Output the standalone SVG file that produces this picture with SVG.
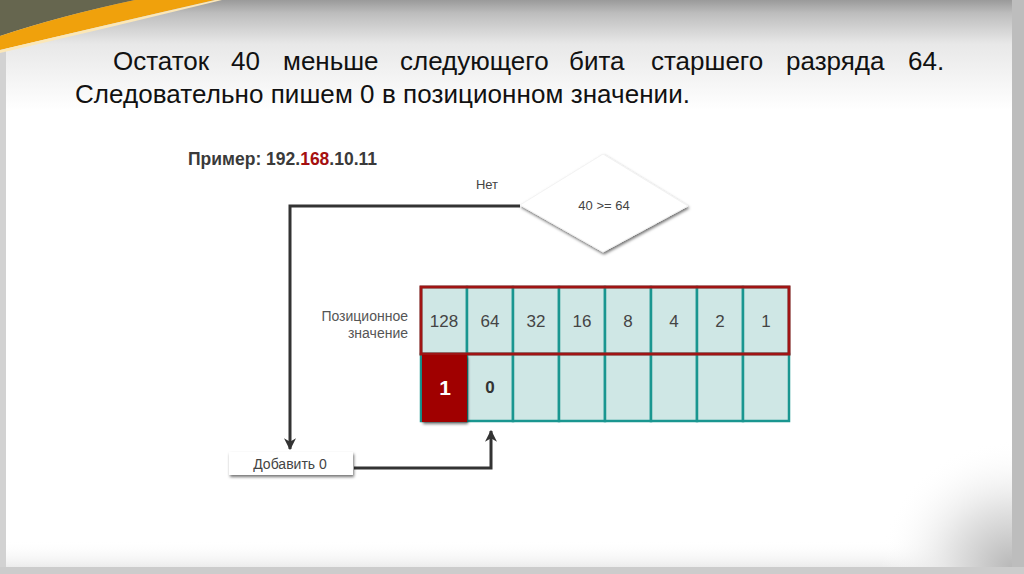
<svg xmlns="http://www.w3.org/2000/svg" width="1024" height="574" viewBox="0 0 1024 574">
  <defs>
    <linearGradient id="hdr" x1="0" y1="0" x2="0" y2="1">
      <stop offset="0" stop-color="#9a9a9a"/>
      <stop offset="0.12" stop-color="#bdbdbd"/>
      <stop offset="0.4" stop-color="#e8e8e8"/>
      <stop offset="1" stop-color="#ffffff"/>
    </linearGradient>
    <linearGradient id="btm" x1="0" y1="0" x2="0" y2="1">
      <stop offset="0" stop-color="#ffffff" stop-opacity="0"/>
      <stop offset="1" stop-color="#ececec"/>
    </linearGradient>
    <radialGradient id="corner" cx="1" cy="1" r="1">
      <stop offset="0" stop-color="#b8b8b8"/>
      <stop offset="0.5" stop-color="#e6e6e6"/>
      <stop offset="1" stop-color="#ffffff" stop-opacity="0"/>
    </radialGradient>
    <filter id="sh" x="-20%" y="-20%" width="140%" height="150%">
      <feDropShadow dx="1" dy="2" stdDeviation="1.5" flood-color="#000" flood-opacity="0.55"/>
    </filter>
    <marker id="arr" viewBox="0 0 10 10" refX="9" refY="5" markerWidth="4" markerHeight="4" orient="auto" markerUnits="strokeWidth">
      <path d="M0,0 L10,5 L0,10 L3,5 Z" fill="#333"/>
    </marker>
    <style>
      .title{font-family:"Liberation Sans",Arial,sans-serif;font-size:26px;fill:#111}
      .lbl{font-family:"Liberation Sans",Arial,sans-serif;fill:#444}
      .cell{fill:#cfe7e5;stroke:#1a9690;stroke-width:2.5}
      .num{font-family:"Liberation Sans",Arial,sans-serif;font-size:17px;fill:#444;text-anchor:middle}
      .conn{fill:none;stroke:#333;stroke-width:3}
    </style>
  </defs>

  <!-- slide background -->
  <rect x="0" y="0" width="1024" height="574" fill="#d2d2d2"/>
  <rect x="6" y="0" width="1006" height="567" fill="#ffffff"/>
  <rect x="6" y="0" width="1006" height="110" fill="url(#hdr)"/>
  <rect x="6" y="540" width="1006" height="27" fill="url(#btm)"/>
  <rect x="880" y="440" width="132" height="127" fill="url(#corner)"/>
  <rect x="1012" y="0" width="12" height="574" fill="#bdbdbd"/>
  <rect x="0" y="567" width="1024" height="7" fill="#cccccc"/>
  <!-- top-left swoosh -->
  <path d="M0,0 L135,0 Q60,16 0,36 Z" fill="#66664f"/>
  <path d="M0,36 Q60,16 135,0 L215,0 Q110,24 0,50 Z" fill="#f0a10c"/>
  <path d="M0,50 Q110,24 215,0 L222,0 Q112,27 0,53 Z" fill="#fbe7b8"/>

  <!-- title -->
  <g id="title" class="title">
    <text x="113" y="70">Остаток</text>
    <text x="231" y="70">40</text>
    <text x="283" y="70">меньше</text>
    <text x="400" y="70">следующего</text>
    <text x="569" y="70">бита</text>
    <text x="651" y="70">старшего</text>
    <text x="786" y="70">разряда</text>
    <text x="908" y="70">64.</text>
    <text x="75" y="103" textLength="615" lengthAdjust="spacing">Следовательно пишем 0 в позиционном значении.</text>
  </g>

  <!-- example label -->
  <g id="example">
    <text x="188" y="165" class="lbl" style="font-size:17.5px;font-weight:bold;fill:#3a3a3a">Пример: 192.<tspan fill="#a50f0f">168</tspan>.10.11</text>
  </g>

  <!-- connectors -->
  <g id="connectors">
    <polyline class="conn" points="520,206 290,206 290,449" marker-end="url(#arr)"/>
    <polyline class="conn" points="354,468 491,468 491,431" marker-end="url(#arr)"/>
    <text x="487" y="189" class="lbl" style="font-size:13px;text-anchor:middle">Нет</text>
  </g>

  <!-- decision -->
  <g id="decision">
    <polygon points="520,205 603,154 688,206 603,252" fill="#ffffff" stroke="#f2f2f2" stroke-width="1" filter="url(#sh)"/>
    <text x="604" y="210" class="lbl" style="font-size:13px;text-anchor:middle">40 &gt;= 64</text>
  </g>

  <!-- add 0 box -->
  <g id="add0">
    <rect x="229" y="452" width="124" height="23" fill="#ffffff" filter="url(#sh)"/>
    <text x="290" y="469" class="lbl" style="font-size:14px;text-anchor:middle">Добавить 0</text>
  </g>

  <!-- row label -->
  <g id="rowlabel" class="lbl" style="font-size:14px;text-anchor:end;fill:#555">
    <text x="408" y="321">Позиционное</text>
    <text x="408" y="338">значение</text>
  </g>

  <!-- table -->
  <g id="table">
    <rect class="cell" x="421" y="287" width="46" height="67"/>
    <rect class="cell" x="467" y="287" width="46" height="67"/>
    <rect class="cell" x="513" y="287" width="46" height="67"/>
    <rect class="cell" x="559" y="287" width="46" height="67"/>
    <rect class="cell" x="605" y="287" width="46" height="67"/>
    <rect class="cell" x="651" y="287" width="46" height="67"/>
    <rect class="cell" x="697" y="287" width="46" height="67"/>
    <rect class="cell" x="743" y="287" width="46" height="67"/>
    <rect class="cell" x="421" y="354" width="46" height="67"/>
    <rect class="cell" x="467" y="354" width="46" height="67"/>
    <rect class="cell" x="513" y="354" width="46" height="67"/>
    <rect class="cell" x="559" y="354" width="46" height="67"/>
    <rect class="cell" x="605" y="354" width="46" height="67"/>
    <rect class="cell" x="651" y="354" width="46" height="67"/>
    <rect class="cell" x="697" y="354" width="46" height="67"/>
    <rect class="cell" x="743" y="354" width="46" height="67"/>
    <rect x="421" y="287" width="368" height="67" fill="none" stroke="#a01414" stroke-width="3"/>
    <text class="num" x="444" y="327">128</text>
    <text class="num" x="490" y="327">64</text>
    <text class="num" x="536" y="327">32</text>
    <text class="num" x="582" y="327">16</text>
    <text class="num" x="628" y="327">8</text>
    <text class="num" x="674" y="327">4</text>
    <text class="num" x="720" y="327">2</text>
    <text class="num" x="766" y="327">1</text>
  </g>

  <!-- bit cells -->
  <g id="bit1">
    <rect x="422" y="355" width="45" height="67" fill="#a00000" filter="url(#sh)"/>
    <text x="445" y="395" style="font-family:'Liberation Sans',Arial,sans-serif;font-size:21px;font-weight:bold;fill:#ffffff;text-anchor:middle">1</text>
  </g>
  <g id="bit0">
    <text x="490" y="393" style="font-family:'Liberation Sans',Arial,sans-serif;font-size:17px;font-weight:bold;fill:#333;text-anchor:middle">0</text>
  </g>
</svg>
